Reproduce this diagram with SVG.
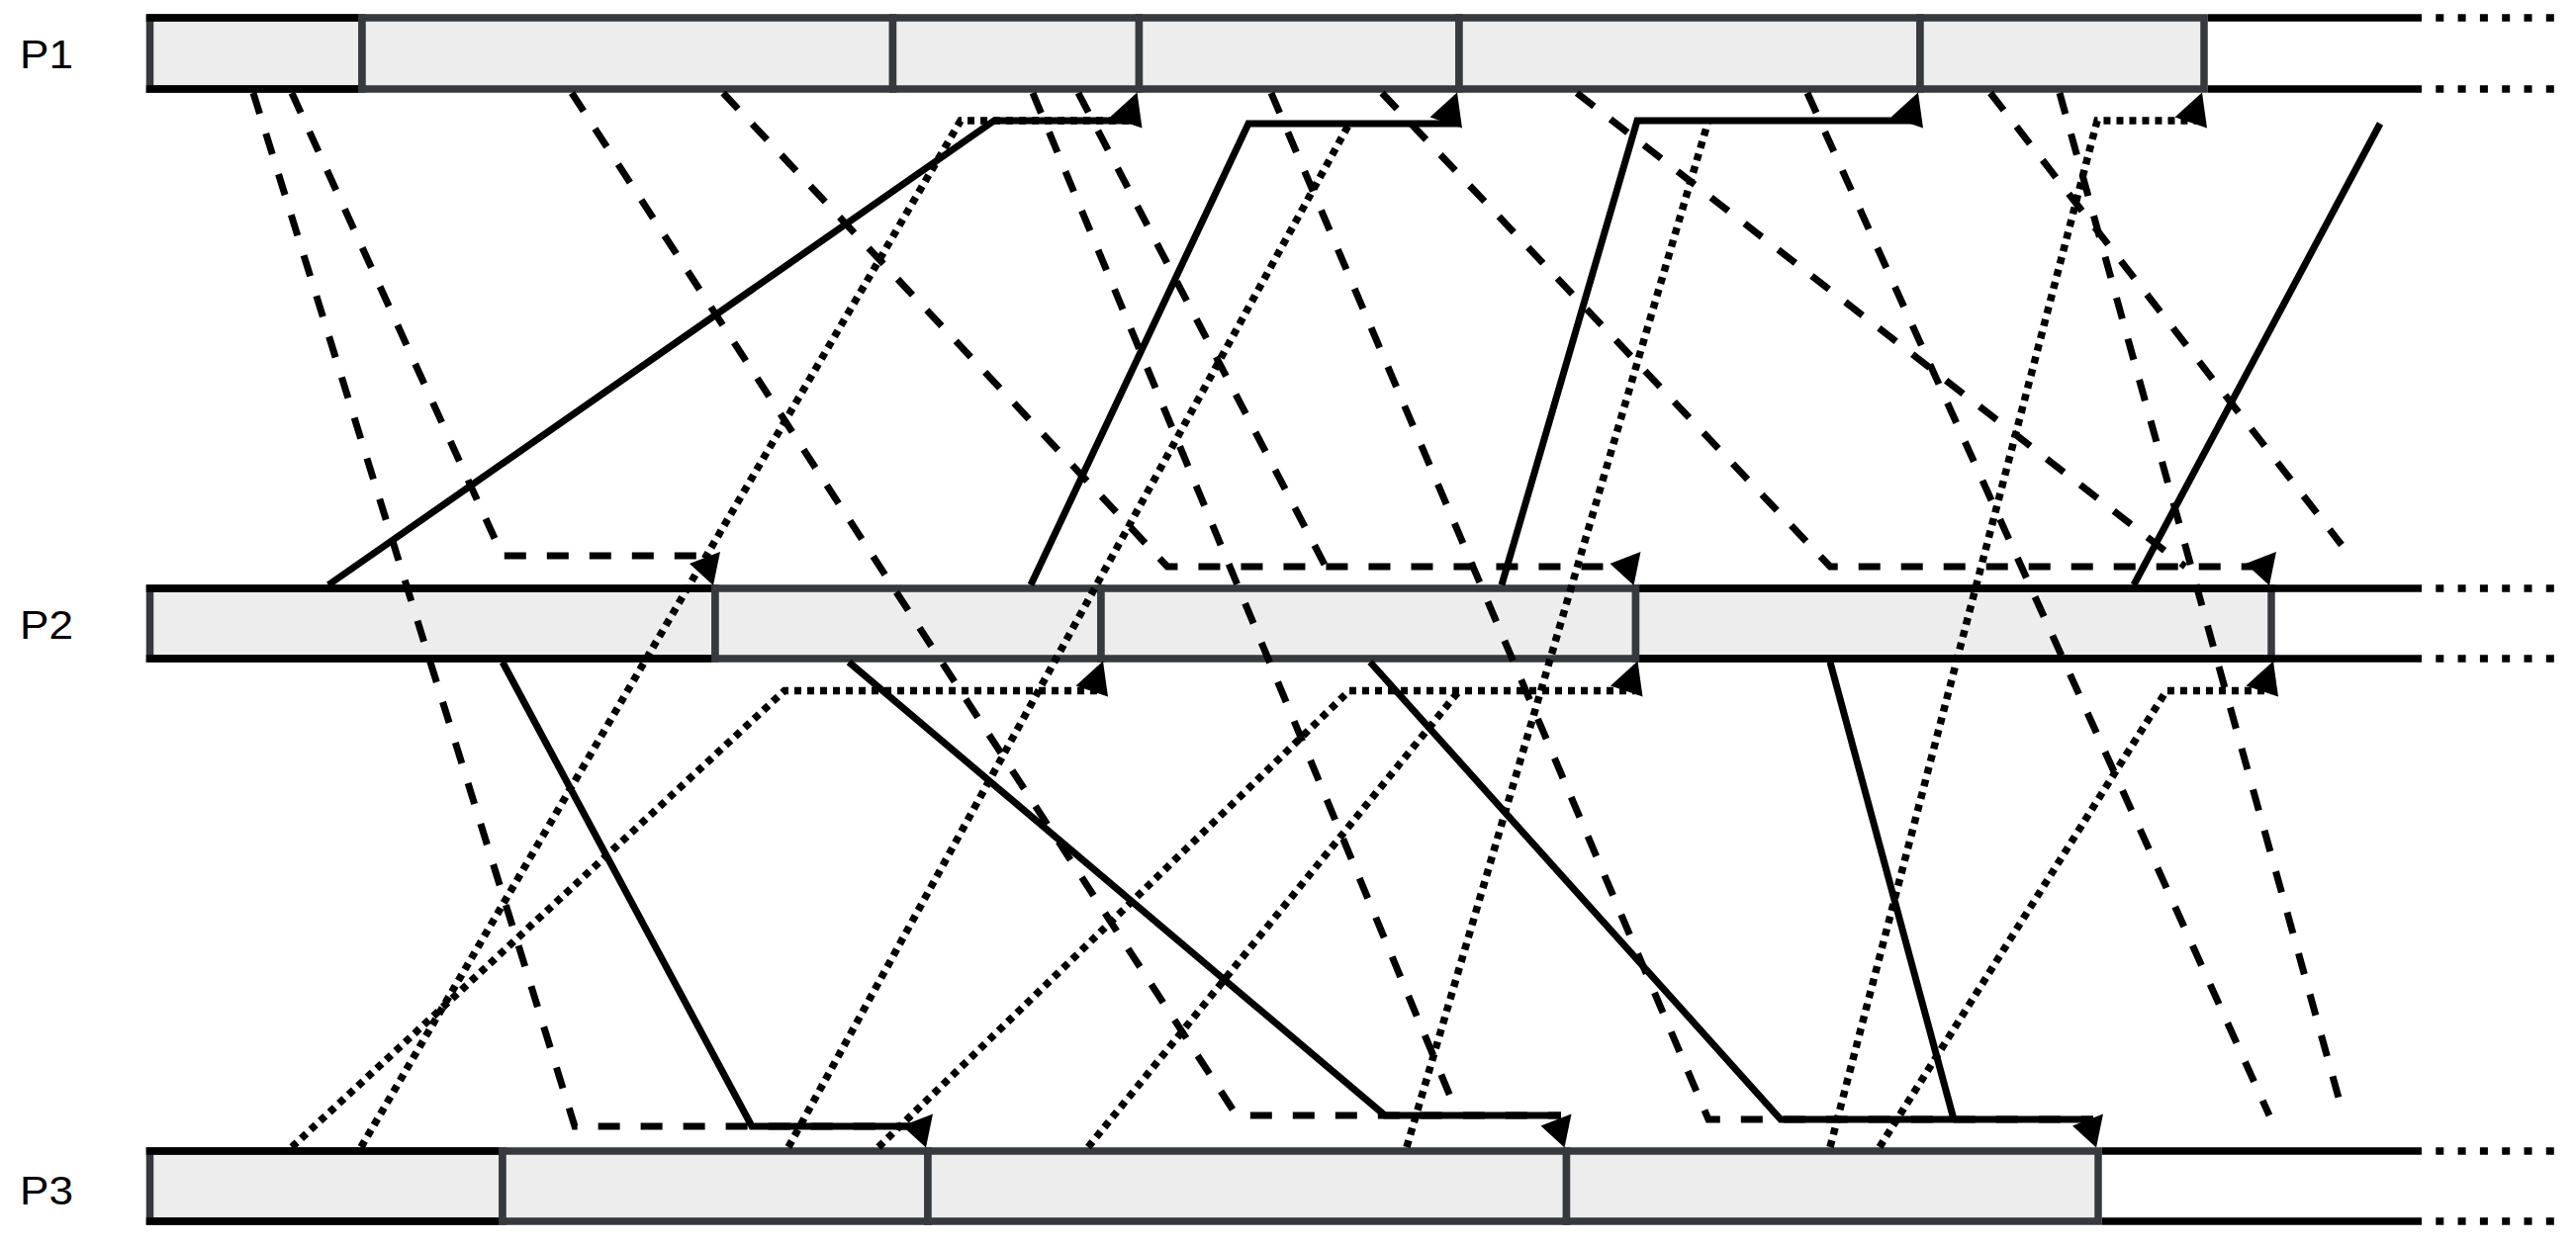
<svg xmlns="http://www.w3.org/2000/svg" width="2604" height="1258" viewBox="0 0 2604 1258">
<style>
.box{fill:#ededed;stroke:#36393e;stroke-width:7.5}
.tl{stroke:#000;stroke-width:7.5;fill:none}
.tlx{stroke:#000;stroke-width:7.5;stroke-dasharray:8 14.3;fill:none}
.lbl{font-family:"Liberation Sans",Arial,Helvetica,sans-serif;font-size:41px;fill:#000}
.m{fill:none;stroke:#000;stroke-width:7;stroke-linejoin:miter}
.dash{stroke-dasharray:22 21}
.dot{stroke-width:7.5;stroke-dasharray:7 6}
.ah{fill:#000;stroke:none}
</style>
<rect width="2604" height="1258" fill="#fff"/>

<g id="P1">
<text class="lbl" x="20" y="69" textLength="54" lengthAdjust="spacingAndGlyphs">P1</text>
<rect class="box" x="151.5" y="18" width="214.5" height="72"/>
<path class="tl" d="M147.75 18H362.25M147.75 90H362.25"/>
<rect class="box" x="366" y="18" width="536.5" height="72"/>
<rect class="box" x="902.5" y="18" width="249" height="72"/>
<rect class="box" x="1151.5" y="18" width="323.5" height="72"/>
<rect class="box" x="1475" y="18" width="466" height="72"/>
<rect class="box" x="1941" y="18" width="287" height="72"/>
<path class="tl" d="M2231.75 18H2440M2231.75 90H2440"/>
<path class="tlx" d="M2440 18H2584M2440 90H2584"/>
</g>

<g id="P2">
<text class="lbl" x="20" y="646" textLength="54" lengthAdjust="spacingAndGlyphs">P2</text>
<rect class="box" x="151.5" y="595" width="571.5" height="71"/>
<path class="tl" d="M147.75 595H719.25M147.75 666H719.25"/>
<rect class="box" x="723" y="595" width="390" height="71"/>
<rect class="box" x="1113" y="595" width="540.5" height="71"/>
<rect class="box" x="1653.5" y="595" width="642.5" height="71"/>
<path class="tl" d="M1657.25 595H2440M1657.25 666H2440"/>
<path class="tlx" d="M2440 595H2584M2440 666H2584"/>
</g>

<g id="P3">
<text class="lbl" x="20" y="1218" textLength="54" lengthAdjust="spacingAndGlyphs">P3</text>
<rect class="box" x="151.5" y="1164" width="356.5" height="71"/>
<path class="tl" d="M147.75 1164H504.25M147.75 1235H504.25"/>
<rect class="box" x="508" y="1164" width="430" height="71"/>
<rect class="box" x="938" y="1164" width="645.5" height="71"/>
<rect class="box" x="1583.5" y="1164" width="537.5" height="71"/>
<path class="tl" d="M2124.75 1164H2440M2124.75 1235H2440"/>
<path class="tlx" d="M2440 1164H2584M2440 1235H2584"/>
</g>

<g id="connectors">
<!-- dotted messages -->
<path class="m dot" d="M295 1160L793 698.5H1113"/>
<path class="m dot" d="M365 1160L971 122H1151.5"/>
<path class="m dot" d="M797 1160L1364 125"/>
<path class="m dot" d="M888 1160L1364 698.5H1653.5"/>
<path class="m dot" d="M1100 1160L1475 698.5"/>
<path class="m dot" d="M1422 1160L1727 122"/>
<path class="m dot" d="M1850 1160L2120 122H2228"/>
<path class="m dot" d="M1900 1160L2190 698.5H2296"/>
<!-- dashed messages -->
<path class="m dash" d="M256 94L581 1139H933"/>
<path class="m dash" d="M295 94L508 562H718"/>
<path class="m dash" d="M578 94L1250 1128H1578"/>
<path class="m dash" d="M731 94L1180 573H1648"/>
<path class="m dash" d="M1044 94L1474 1128"/>
<path class="m dash" d="M1090 94L1340 573"/>
<path class="m dash" d="M1285 94L1727 1132H2116"/>
<path class="m dash" d="M1397 94L1850 573H2291"/>
<path class="m dash" d="M1594 94L2209 573"/>
<path class="m dash" d="M1827 94L2294 1128"/>
<path class="m dash" d="M2012 94L2367 551"/>
<path class="m dash" d="M2082 94L2369 1128"/>
<!-- solid messages -->
<path class="m" d="M332 591.5L1005 122H1151.5"/>
<path class="m" d="M1042 591.5L1262 125H1475"/>
<path class="m" d="M1518 591.5L1655 122H1941"/>
<path class="m" d="M2157 591.5L2406 125"/>
<path class="m" d="M508 669.5L760 1139H933"/>
<path class="m" d="M858 669.5L1400 1128H1578"/>
<path class="m" d="M1385 669.5L1800 1132H2116"/>
<path class="m" d="M1850 669.5L1975 1132"/>
<!-- arrowheads up to P1 -->
<polygon class="ah" points="1149.5,93.5 1122,118.5 1154.5,129.5"/>
<polygon class="ah" points="1473,93.5 1445.5,118.5 1478,129.5"/>
<polygon class="ah" points="1939,93.5 1911.5,118.5 1944,129.5"/>
<polygon class="ah" points="2226,93.5 2198.5,118.5 2231,129.5"/>
<!-- arrowheads down to P2 -->
<polygon class="ah" points="721,592 697,570 728,558"/>
<polygon class="ah" points="1651.5,592 1627.5,570 1658.5,558"/>
<polygon class="ah" points="2294,592 2270,570 2301,558"/>
<!-- arrowheads up to P2 -->
<polygon class="ah" points="1115,668.5 1087.5,693.5 1120,704.5"/>
<polygon class="ah" points="1655.5,668.5 1628,693.5 1660.5,704.5"/>
<polygon class="ah" points="2298,668.5 2270.5,693.5 2303,704.5"/>
<!-- arrowheads down to P3 -->
<polygon class="ah" points="936,1160.5 912,1138.5 943,1126.5"/>
<polygon class="ah" points="1581.5,1160.5 1557.5,1138.5 1588.5,1126.5"/>
<polygon class="ah" points="2119,1160.5 2095,1138.5 2126,1126.5"/>
</g>
</svg>
